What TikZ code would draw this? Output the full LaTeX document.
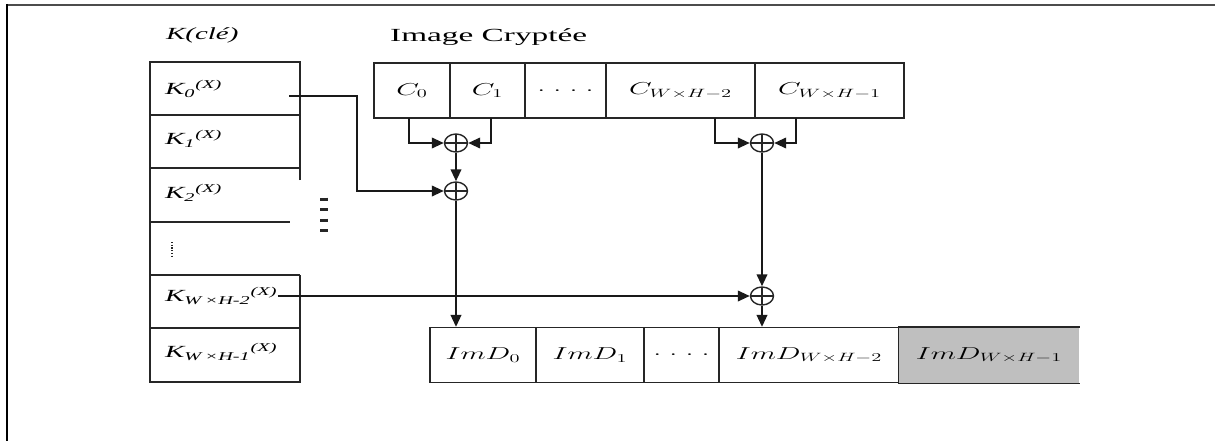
\documentclass[tikz,border=0pt]{standalone}
\usepackage{fontspec}
\setmainfont{Liberation Serif}
\usepackage{graphicx}
\usetikzlibrary{arrows.meta,shapes.geometric}
\newcommand{\sx}[1]{\scalebox{1.7}[1]{#1}}
\newcommand{\sxt}[1]{\scalebox{1.8}[1]{#1}}
\begin{document}
\begin{tikzpicture}[x=1pt,y=-1pt,
  txt/.style={font=\fontsize{17}{20}\selectfont, inner sep=0pt},
  box/.style={txt, draw=black!85, line width=1.2pt, minimum height=55pt},
  boxline/.style={draw=black!85, line width=1.2pt},
  conn/.style={draw=black!90, line width=2.2pt},
  arr/.style={conn, -{Triangle[length=12pt,width=10.5pt]}},
  xorn/.style={ellipse, draw=black!85, line width=1.4pt, minimum width=23pt, minimum height=18pt, inner sep=0pt,
    path picture={\draw[line width=1.4pt, black!85] (path picture bounding box.north) -- (path picture bounding box.south)
      (path picture bounding box.west) -- (path picture bounding box.east);}}
]
\useasboundingbox (0,0) rectangle (1215,441);
\fill[white] (0,0) rectangle (1215,441);
% outer frame
\draw[line width=2pt, black!70] (6,5) -- (1215,5);
\draw[line width=2pt, black] (7,4) -- (7,441);

% titles
\node[txt, anchor=west] (kt) at (166,35) {\sx{\textit{K(clé)}}};
\node[txt, anchor=west, font=\fontsize{18.5}{20}\selectfont] (it) at (390,37) {\sxt{Image Cryptée}};

% key column
\draw[boxline] (300,180) -- (300,62) -- (150,62) -- (150,382) -- (300,382) -- (300,275);
\draw[boxline] (150,115) -- (300,115);
\draw[boxline] (150,168) -- (300,168);
\draw[boxline] (150,222) -- (290,222);
\draw[boxline] (150,275) -- (300,275);
\draw[boxline] (150,328) -- (300,328);
\node[txt, anchor=west] (k0) at (165,89) {\sx{\textit{K\textsubscript{0}}\textsuperscript{\textit{(X)}}}};
\node[txt, anchor=west] (k1) at (165,139) {\sx{\textit{K\textsubscript{1}}\textsuperscript{\textit{(X)}}}};
\node[txt, anchor=west] (k2) at (165,193) {\sx{\textit{K\textsubscript{2}}\textsuperscript{\textit{(X)}}}};
\node[txt, anchor=west] (kwa) at (165,296) {\sx{\textit{K\textsubscript{W\,×H-2}}\textsuperscript{\textit{(X)}}}};
\node[txt, anchor=west] (kwb) at (165,352) {\sx{\textit{K\textsubscript{W\,×H-1}}\textsuperscript{\textit{(X)}}}};
\draw[line width=1.3pt, black!85, dash pattern=on 1.3pt off 1.4pt] (172,242) -- (172,256);
\draw[line width=8pt, black!85, dash pattern=on 3pt off 7.5pt] (324,197.5) -- (324,233);

% encrypted image
\node[box, minimum width=76pt] (c0) at (412,90.5) {\sx{$C_0$}};
\node[box, minimum width=75pt] (c1) at (487.5,90.5) {\sx{$C_1$}};
\node[box, minimum width=81pt] (cd) at (565.5,90.5) {\sx{$.\;.\;.\;.$}};
\node[box, minimum width=149pt] (cw2) at (680.5,90.5) {\sx{$C_{W\times H-2}$}};
\node[box, minimum width=149pt] (cw1) at (829.5,90.5) {\sx{$C_{W\times H-1}$}};

% xor nodes
\node[xorn] (x1) at (456,143) {};
\node[xorn] (x2) at (456,191) {};
\node[xorn] (x3) at (762,143) {};
\node[xorn] (x4) at (762,296) {};

% decrypted image
\node[box, minimum width=106pt] (d0) at (483,355) {\sx{$ImD_0$}};
\node[box, minimum width=108pt] (d1) at (590,355) {\sx{$ImD_1$}};
\node[box, minimum width=75pt] (dd) at (681.5,355) {\sx{$.\;.\;.\;.$}};
\node[box, minimum width=180pt] (dw2) at (809,355) {\sx{$ImD_{W\times H-2}$}};
\node[box, draw=none, fill=black!25, minimum width=180pt] (dw1) at (989,355) {\sx{$ImD_{W\times H-1}$}};
\draw[boxline] (dw1.north east) -- (dw1.north west) -- (dw1.south west) -- (dw1.south east);

% connectors
\coordinate (c0b) at (409,118);
\coordinate (c1b) at (491,118);
\coordinate (cw2b) at (715,118);
\coordinate (cw1b) at (796,118);
\coordinate (k0o) at (289,96);
\coordinate (kbend) at (357,96);
\draw[arr] (c0b) |- (x1.west);
\draw[arr] (c1b) |- (x1.east);
\draw[arr] (x1.south) -- (x2.north);
\draw[arr] (k0o) -- (kbend) |- (x2.west);
\draw[arr] (x2.south) -- (x2.south |- d0.north);
\draw[arr] (cw2b) |- (x3.west);
\draw[arr] (cw1b) |- (x3.east);
\draw[arr] (x3.south) -- (x4.north);
\draw[arr] (kwa.east) -- (x4.west);
\draw[arr] (x4.south) -- (x4.south |- dw2.north);
\end{tikzpicture}
\end{document}
